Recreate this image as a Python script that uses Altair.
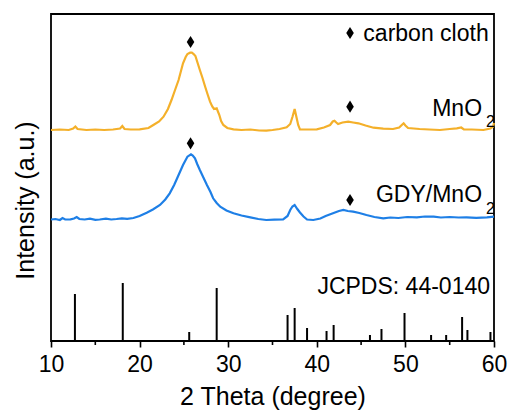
import altair as alt
import pandas as pd

# ---- data ----
mno2_theta = [10.0, 11.0, 12.0, 12.5, 12.75, 13.0, 14.0, 15.0, 16.0, 17.0, 17.8, 18.05, 18.3, 19.0, 20.0,
              21.0, 21.55, 22.2, 22.7, 23.2, 23.6, 24.0, 24.4, 24.9, 25.2, 25.4, 25.7, 25.9, 26.1, 26.3,
              26.55, 26.8, 27.1, 27.4, 27.7, 27.95, 28.2, 28.4, 28.7, 29.0, 29.2, 29.45, 29.9, 30.6, 31.5,
              32.5, 33.5, 34.3, 35.0, 35.8, 36.6, 37.0, 37.25, 37.5, 37.7, 37.9, 38.1, 39.0, 40.0, 40.8,
              41.5, 41.8, 42.0, 42.2, 42.4, 42.9, 43.55, 44.1, 44.7, 45.5, 46.4, 47.5, 48.6, 49.3, 49.65,
              49.8, 50.0, 50.3, 51.6, 52.7, 53.9, 55.0, 55.8, 56.3, 56.6, 57.5, 58.8, 59.6, 59.9, 60.0]
mno2_int = [211, 211.5, 211, 212.5, 214.5, 212, 211, 211.5, 211, 211.5, 212.5, 215, 212, 211.5, 211.7,
            213, 216, 219.5, 224.3, 232, 241, 251, 261, 277.7, 284, 287, 288.3, 288.3, 287, 285,
            278, 271, 263, 254.3, 246, 239.3, 234.5, 232, 232.7, 226, 220, 216, 213, 211.7, 211,
            211.5, 210.5, 210.3, 211, 212, 213.7, 217, 224, 232, 224, 216, 211.7, 211.5, 211.7, 213.5,
            216, 219.5, 220.3, 218.5, 217, 218.5, 219.3, 218.5, 217.7, 215.5, 213.3, 212.3, 212, 213.5, 216.5,
            217.7, 215.5, 213, 212, 211.5, 211, 212, 212.7, 213.5, 211.5, 211.5, 211, 212.5, 214.3, 218]

gdy_theta = [10.0, 10.5, 11.0, 11.3, 11.6, 12.2, 12.6, 12.9, 13.2, 13.8, 14.4, 15.0, 15.5, 16.2, 16.8,
             17.4, 18.0, 18.6, 19.3, 20.0, 20.8, 21.5, 22.3, 22.9, 23.4, 23.9, 24.4, 24.9, 25.2, 25.4,
             25.8, 26.0, 26.25, 26.5, 26.8, 27.2, 27.6, 28.0, 28.3, 28.7, 29.1, 29.8, 30.6, 31.5, 32.5,
             33.4, 34.3, 35.2, 36.2, 36.7, 37.0, 37.25, 37.5, 37.8, 38.1, 38.5, 38.9, 39.6, 40.4, 41.0,
             41.9, 42.5, 43.0, 43.5, 44.1, 44.8, 45.6, 46.5, 47.5, 48.3, 49.2, 50.2, 51.3, 52.2, 53.2,
             54.0, 55.0, 56.0, 56.9, 58.0, 59.2, 60.0]
gdy_int = [121.5, 122, 121, 123, 121.5, 121.7, 122.5, 124, 122, 121.5, 122.3, 121.2, 121.5, 122.3, 121.5,
           122, 122.7, 122.2, 123, 125, 128.3, 131.5, 136, 141.5, 147.7, 156, 166, 176, 181, 184.3,
           186.7, 185.5, 182.7, 177, 171, 163.5, 156, 149, 142.7, 138, 134.3, 130.5, 127.7, 125.5, 123.7,
           122, 121, 121.3, 121.7, 125, 131, 134.5, 136, 132, 128.5, 124.5, 121.5, 121, 122.5, 125,
           128, 130, 131, 130, 129.3, 128, 126, 124, 122.7, 123.5, 123, 124, 123.7, 124.5, 124.3,
           123.5, 124, 123.5, 123.7, 123.2, 123.7, 124.3]

ref_theta = [12.7, 18.1, 25.6, 28.7, 36.7, 37.5, 38.9, 41.1, 41.9, 46.0, 47.3, 49.9, 52.9, 54.6, 56.4, 57.0, 59.6]
ref_int = [47, 58, 9, 53, 26, 33, 13, 10, 16, 6, 12, 28, 6, 6, 24, 11, 9]

major_ticks = [10, 20, 30, 40, 50, 60]
minor_ticks = [15, 25, 35, 45, 55]

marker_theta = [25.75, 43.75, 25.75, 43.75, 43.75]
marker_int = [299, 234.3, 197.7, 141, 308]

label_text = ["carbon cloth", "MnO", "GDY/MnO", "JCPDS: 44-0140"]
label_theta = [59.4, 58.65, 58.65, 59.55]
label_int = [300, 225, 139.3, 47.5]
sub_text = ["2", "2"]
sub_theta = [59.1, 59.1]
sub_int = [214, 127.5]

FONT = "Liberation Sans"

curves = pd.concat([
    pd.DataFrame({"theta": mno2_theta, "intensity": mno2_int, "series": "MnO2"}),
    pd.DataFrame({"theta": gdy_theta, "intensity": gdy_int, "series": "GDY/MnO2"}),
])
refs = pd.DataFrame({"theta": ref_theta, "intensity": ref_int, "base": 0})
minors = pd.DataFrame({"theta": minor_ticks})
markers = pd.DataFrame({"theta": marker_theta, "intensity": marker_int})
labels = pd.DataFrame({"theta": label_theta, "intensity": label_int, "text": label_text})
subs = pd.DataFrame({"theta": sub_theta, "intensity": sub_int, "text": sub_text})

xscale = alt.Scale(domain=[10, 60], nice=False)
yscale = alt.Scale(domain=[0, 327], nice=False)

xaxis = alt.Axis(
    values=major_ticks,
    tickSize=6, ticks=True,
    tickColor="black", tickWidth=1.6, domain=False, grid=False,
    labelFont=FONT, labelFontSize=23, labelColor="black", labelPadding=6, labelFlush=False,
    title="2 Theta (degree)", titleFont=FONT, titleFontSize=25, titleFontWeight="normal",
    titleColor="black", titlePadding=8,
)
yaxis = alt.Axis(
    ticks=False, labels=False, domain=False, grid=False,
    title="Intensity (a.u.)", titleFont=FONT, titleFontSize=25, titleFontWeight="normal",
    titleColor="black", titleX=-26, titleY=186, titleBaseline="middle", titleAngle=-90,
    titleAlign="center",
)

x = alt.X("theta:Q", scale=xscale, axis=xaxis)
y = alt.Y("intensity:Q", scale=yscale, axis=yaxis)

lines = alt.Chart(curves).mark_line(strokeWidth=2.2).encode(
    x=x, y=y,
    color=alt.Color("series:N", scale=alt.Scale(domain=["MnO2", "GDY/MnO2"],
                                                 range=["#F4B02A", "#1E7FE6"]), legend=None),
    detail="series:N",
)

sticks = alt.Chart(refs).mark_rule(color="black", strokeWidth=2).encode(
    x=alt.X("theta:Q", scale=xscale), y=alt.Y("base:Q", scale=yscale), y2="intensity:Q"
)

minor_rules = alt.Chart(minors).mark_rule(color="black", strokeWidth=1.6).encode(
    x=alt.X("theta:Q", scale=xscale), y=alt.value(327), y2=alt.value(331)
)

diamonds = alt.Chart(markers).mark_point(
    shape="M0,-1L0.62,0L0,1L-0.62,0Z", filled=True, color="black", opacity=1, size=150
).encode(x=alt.X("theta:Q", scale=xscale), y=alt.Y("intensity:Q", scale=yscale))

texts = alt.Chart(labels).mark_text(
    font=FONT, fontSize=23, align="right", baseline="alphabetic", color="black"
).encode(x=alt.X("theta:Q", scale=xscale), y=alt.Y("intensity:Q", scale=yscale), text="text:N")

subtexts = alt.Chart(subs).mark_text(
    font=FONT, fontSize=16, align="left", baseline="alphabetic", color="black"
).encode(x=alt.X("theta:Q", scale=xscale), y=alt.Y("intensity:Q", scale=yscale), text="text:N")

chart = alt.layer(lines, sticks, minor_rules, diamonds, texts, subtexts).properties(
    width=443, height=327,
    autosize=alt.AutoSizeParams(type="none"),
    padding={"left": 51, "top": 14, "right": 17, "bottom": 69},
    background="white",
).configure_view(stroke="black", strokeWidth=1.8)

chart.save("out.html", embed_options={"renderer": "svg", "actions": False})
